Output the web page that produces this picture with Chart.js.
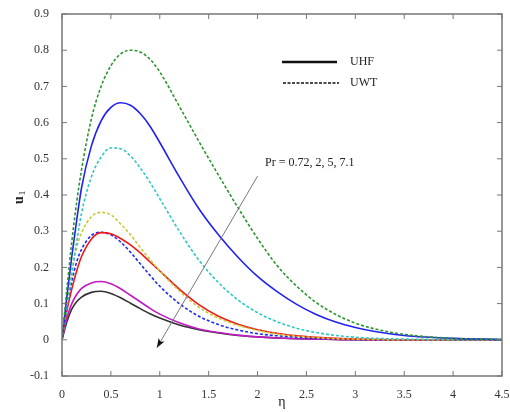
<!DOCTYPE html>
<html lang="en">

<head>
    <meta charset="UTF-8">
    <title>u1 profiles</title>
    <style>
        html, body { margin: 0; padding: 0; background: #fff; }
        #wrap { width: 510px; height: 412px; }
    </style>
</head>

<body>
    <div id="wrap"><canvas id="profile-chart" width="510" height="412"></canvas></div>
</body>

<script src="https://cdn.jsdelivr.net/npm/chart.js@4.4.0/dist/chart.umd.min.js"></script>

<script type="text/javascript" charset="utf-8">
    // eta grid shared by all curves
    var eta = [0, 0.05, 0.1, 0.15, 0.2, 0.3, 0.4, 0.5, 0.6, 0.7, 0.8, 0.9, 1.0, 1.2, 1.4, 1.6, 1.8, 2.0, 2.2, 2.4, 2.6, 2.8, 3.0, 3.2, 3.5, 4.0, 4.5];

    // UHF (solid), Pr = 0.72, 2, 5, 7.1
    var uhfPr072 = [0, 0.12, 0.23, 0.33, 0.42, 0.535, 0.605, 0.642, 0.655, 0.648, 0.625, 0.59, 0.545, 0.45, 0.362, 0.29, 0.228, 0.175, 0.133, 0.098, 0.07, 0.049, 0.034, 0.023, 0.012, 0.004, 0.001];
    var uhfPr2 = [0, 0.08, 0.14, 0.19, 0.23, 0.278, 0.296, 0.293, 0.28, 0.262, 0.24, 0.215, 0.19, 0.14, 0.097, 0.065, 0.043, 0.028, 0.018, 0.011, 0.007, 0.004, 0.002, 0.001, 0, 0, 0];
    var uhfPr5 = [0, 0.06, 0.1, 0.125, 0.142, 0.157, 0.161, 0.155, 0.141, 0.123, 0.105, 0.087, 0.071, 0.047, 0.03, 0.02, 0.013, 0.008, 0.005, 0.003, 0.002, 0.001, 0, 0, 0, 0, 0];
    var uhfPr71 = [0, 0.05, 0.085, 0.105, 0.118, 0.131, 0.134, 0.128, 0.116, 0.101, 0.086, 0.072, 0.06, 0.041, 0.028, 0.019, 0.012, 0.008, 0.005, 0.003, 0.002, 0.001, 0, 0, 0, 0, 0];

    // UWT (dashed), Pr = 0.72, 2, 5, 7.1
    var uwtPr072 = [0, 0.14, 0.27, 0.38, 0.47, 0.61, 0.70, 0.757, 0.79, 0.80, 0.795, 0.775, 0.74, 0.645, 0.548, 0.455, 0.365, 0.28, 0.205, 0.148, 0.103, 0.07, 0.046, 0.03, 0.015, 0.004, 0.001];
    var uwtPr2 = [0, 0.09, 0.18, 0.27, 0.35, 0.45, 0.505, 0.53, 0.528, 0.508, 0.475, 0.435, 0.39, 0.30, 0.22, 0.158, 0.11, 0.075, 0.05, 0.032, 0.02, 0.012, 0.007, 0.004, 0.002, 0.0005, 0];
    var uwtPr5 = [0, 0.1, 0.19, 0.255, 0.295, 0.34, 0.352, 0.345, 0.32, 0.29, 0.255, 0.222, 0.19, 0.135, 0.09, 0.06, 0.04, 0.026, 0.016, 0.01, 0.006, 0.003, 0.002, 0.001, 0, 0, 0];
    var uwtPr71 = [0, 0.09, 0.16, 0.215, 0.25, 0.288, 0.297, 0.29, 0.27, 0.242, 0.21, 0.178, 0.148, 0.1, 0.065, 0.042, 0.027, 0.017, 0.011, 0.007, 0.004, 0.002, 0.001, 0, 0, 0, 0];

    // arrow annotation, in data units: [eta, u]
    var arrowFrom = [2.0, 0.452];
    var arrowTo = [0.97, -0.022];
    var arrowText = 'Pr = 0.72, 2, 5, 7.1';

    var serif = '"Liberation Serif", "Times New Roman", serif';

    function pts(ys) {
        return eta.map(function (x, i) { return { x: x, y: ys[i] }; });
    }
    function curve(ys, color, dashed) {
        return {
            data: pts(ys),
            borderColor: color,
            borderWidth: 1.6,
            borderDash: dashed ? [3, 2] : [],
            pointRadius: 0,
            fill: false,
            cubicInterpolationMode: 'monotone'
        };
    }

    // frame, inward ticks, legend, arrow and axis titles
    var decor = {
        id: 'decor',
        afterDraw: function (chart) {
            var ctx = chart.ctx;
            var a = chart.chartArea;
            var xs = chart.scales.x, ys = chart.scales.y;
            ctx.save();
            ctx.strokeStyle = '#777';
            ctx.lineWidth = 1.5;
            ctx.strokeRect(a.left, a.top, a.right - a.left, a.bottom - a.top);
            ctx.lineWidth = 1;
            xs.ticks.forEach(function (t) {
                var px = xs.getPixelForValue(t.value);
                ctx.beginPath();
                ctx.moveTo(px, a.bottom); ctx.lineTo(px, a.bottom - 5);
                ctx.moveTo(px, a.top); ctx.lineTo(px, a.top + 5);
                ctx.stroke();
            });
            ys.ticks.forEach(function (t) {
                var py = ys.getPixelForValue(t.value);
                ctx.beginPath();
                ctx.moveTo(a.left, py); ctx.lineTo(a.left + 5, py);
                ctx.moveTo(a.right, py); ctx.lineTo(a.right - 5, py);
                ctx.stroke();
            });

            // legend
            ctx.strokeStyle = '#111';
            ctx.lineWidth = 2.5;
            ctx.beginPath(); ctx.moveTo(282, 62); ctx.lineTo(337, 62); ctx.stroke();
            ctx.lineWidth = 1.5;
            ctx.setLineDash([3, 1.5]);
            ctx.beginPath(); ctx.moveTo(283, 83); ctx.lineTo(339, 83); ctx.stroke();
            ctx.setLineDash([]);
            ctx.fillStyle = '#222';
            ctx.font = '12px ' + serif;
            ctx.textBaseline = 'middle';
            ctx.textAlign = 'left';
            ctx.fillText('UHF', 350, 62);
            ctx.fillText('UWT', 350, 83);

            // arrow
            var x0 = xs.getPixelForValue(arrowFrom[0]), y0 = ys.getPixelForValue(arrowFrom[1]);
            var x1 = xs.getPixelForValue(arrowTo[0]), y1 = ys.getPixelForValue(arrowTo[1]);
            ctx.strokeStyle = '#777';
            ctx.lineWidth = 1;
            ctx.beginPath(); ctx.moveTo(x0, y0); ctx.lineTo(x1, y1); ctx.stroke();
            var ang = Math.atan2(y1 - y0, x1 - x0);
            ctx.fillStyle = '#111';
            ctx.beginPath();
            ctx.moveTo(x1, y1);
            ctx.lineTo(x1 - 10 * Math.cos(ang - 0.35), y1 - 10 * Math.sin(ang - 0.35));
            ctx.lineTo(x1 - 7 * Math.cos(ang), y1 - 7 * Math.sin(ang));
            ctx.lineTo(x1 - 10 * Math.cos(ang + 0.35), y1 - 10 * Math.sin(ang + 0.35));
            ctx.closePath();
            ctx.fill();
            ctx.fillStyle = '#222';
            ctx.font = '12px ' + serif;
            ctx.fillText(arrowText, 265, 163);

            // axis titles
            ctx.textAlign = 'center';
            ctx.font = '14px ' + serif;
            ctx.fillText('η', (a.left + a.right) / 2, 402);
            ctx.translate(19, 200);
            ctx.rotate(-Math.PI / 2);
            ctx.font = 'bold 14px ' + serif;
            ctx.fillText('u', 0, 0);
            ctx.font = '9px ' + serif;
            ctx.fillText('1', 7, 4);
            ctx.restore();
        }
    };

    var chart = new Chart(document.getElementById('profile-chart').getContext('2d'), {
        type: 'line',
        data: {
            datasets: [
                curve(uwtPr072, '#2e962e', true),
                curve(uhfPr072, '#2222f0', false),
                curve(uwtPr2, '#2cc8c8', true),
                curve(uwtPr5, '#c8c832', true),
                curve(uhfPr2, '#f01818', false),
                curve(uwtPr71, '#1e2ef0', true),
                curve(uhfPr5, '#c01ac0', false),
                curve(uhfPr71, '#333333', false)
            ]
        },
        options: {
            responsive: false,
            animation: false,
            layout: { padding: { left: 0, right: 8, top: 14, bottom: 0 } },
            plugins: { legend: { display: false }, tooltip: { enabled: false } },
            scales: {
                x: {
                    type: 'linear',
                    min: 0,
                    max: 4.5,
                    ticks: {
                        stepSize: 0.5, color: '#333', padding: 4, maxRotation: 0,
                        font: { family: serif, size: 12 },
                        callback: function (v) { return String(Math.round(v * 10) / 10); }
                    },
                    grid: { display: false },
                    border: { display: false },
                    afterFit: function (s) { s.height = 36; s.paddingRight = 0; }
                },
                y: {
                    min: -0.1,
                    max: 0.9,
                    ticks: { stepSize: 0.1, color: '#333', padding: 5, font: { family: serif, size: 12 } },
                    grid: { display: false },
                    border: { display: false },
                    afterFit: function (s) { s.width = 62; }
                }
            }
        },
        plugins: [decor]
    });
</script>

</html>
